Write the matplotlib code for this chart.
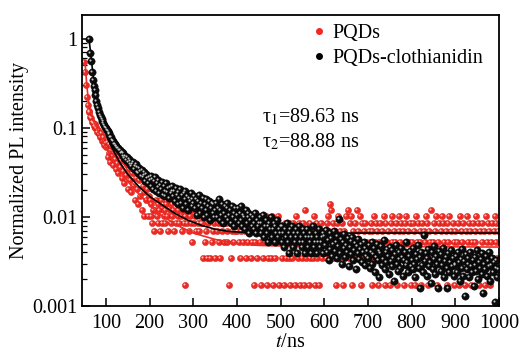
import matplotlib
matplotlib.use("Agg")
import matplotlib.pyplot as plt
import matplotlib.transforms as mtransforms
import numpy as np
from matplotlib.lines import Line2D
from matplotlib.ticker import FixedLocator, LogLocator, NullFormatter

plt.rcParams['font.family'] = 'Liberation Serif'
plt.rcParams['mathtext.fontset'] = 'stix'

# ---- data ----
# time bins (ns)
red_t0 = 50
black_t0 = 62
bin_ns = 2

# PQDs: counts per bin (1 count = 0.00173 in normalized units)
red_unit = 0.00173
red_early = [318, 243, 175, 128, 104, 90, 86, 76, 74, 67,
             66, 61, 63, 57, 59, 52, 55, 49, 46, 50,
             44, 41, 45, 37, 39,
             35, 40, 27, 38, 30, 24, 36, 28, 22, 33,
             26, 20, 31, 23, 18, 28, 21, 25, 16, 27,
             19, 14, 24, 17, 22, 12, 20, 15, 23, 11,
             18, 13, 21, 9, 16, 12, 19, 8, 15, 10,
             17, 7, 13, 11, 6, 14, 9, 12, 6, 10]
red_tail = ("9685747968574958675864975867495867586475"
            "16758465739564857465"
            "5273642582637452645372546375436152463745"
            "45362453742635462354135246351425361243526134253614"
            "32431524352142531634251423517243152342613524135243"
            "34256428735241536243514326372536142537243615243532"
            "24351426354213524361523421536243512463524153624351"
            "32541635243152436251437235246135242653241536242531"
            "42351624352146325413524362514235241635241352463524")

# PQDs-clothianidin: counts per bin up to 598 ns (1 count = 0.00066),
# then values in units of 1e-4 from 600 ns on
black_unit = 0.00066
black_early = [1515, 1050, 840, 635, 516, 450, 405, 350, 305, 275,
               250, 225, 212, 200, 190, 180, 172, 163, 156, 150, 144,
               140, 131, 129, 120, 118, 110, 109, 101, 100, 95, 94, 90, 90, 85,
               86, 80, 81, 74, 79, 70, 74, 66, 71, 62, 67, 60, 64, 56, 60,
               62, 52, 57, 60, 49, 55, 47, 53, 50, 44, 51, 42, 48, 45, 38, 46, 41, 36, 43, 39,
               44, 34, 40, 31, 38, 42, 30, 36, 33, 39, 28, 35, 31, 37, 27, 34, 30, 26, 36, 29,
               32, 25, 33, 28, 30,
               34, 26, 30, 23, 32, 27, 21, 29, 25, 31, 22, 27, 19, 28, 24, 30, 21, 26, 18, 25,
               23, 28, 20, 24, 22,
               26, 19, 24, 16, 23, 20, 27, 17, 22, 19, 25, 15, 21, 18, 24, 16, 20, 23, 14, 19,
               22, 17, 21, 15, 18,
               22, 15, 19, 24, 14, 18, 16, 21, 13, 17, 20, 15, 19, 22, 14, 16, 18, 13, 20, 15,
               17, 12, 19, 14, 16,
               19, 13, 17, 14, 20, 12, 16, 15, 11, 18, 13, 15, 17, 10, 14, 16, 12, 15, 11, 13,
               17, 10, 14, 12, 13,
               15, 10, 13, 11, 16, 9, 12, 14, 10, 12, 8, 13, 11, 15, 9, 11, 13, 8, 12, 10,
               14, 9, 11, 10, 12,
               8, 12, 10, 7, 11, 9, 13, 8, 10, 6, 11, 9, 12, 7, 10, 8, 11, 9, 6, 10,
               12, 8, 9, 7, 11, 8, 10, 6, 9, 11, 7, 9, 8, 10, 6, 9, 12, 7, 8, 10,
               6, 9, 8, 11, 7, 8, 9, 6, 10]
black_tail_e4 = [62, 48, 71, 40, 55, 33, 66, 44, 58, 37, 50, 69, 42, 53, 35, 61, 47, 95, 39, 56,
                 30, 52, 45, 64, 36, 49, 41, 58, 28, 46, 54, 38, 60, 33, 43, 51, 26, 47, 39, 57,
                 34, 44, 50, 31, 40, 53, 29, 45, 37, 42,
                 35, 48, 27, 41, 52, 30, 38, 45, 24, 36, 50, 33, 42, 21, 39, 47, 29, 34, 55, 26,
                 40, 31, 44, 37, 23, 46, 32, 28, 43, 35, 19, 38, 49, 30, 25, 41, 34, 27, 45, 36,
                 22, 33, 40, 29, 52, 31, 24, 37, 42, 28,
                 33, 26, 45, 30, 21, 38, 34, 48, 27, 16, 36, 41, 29, 24, 63, 32, 39, 22, 35, 44,
                 28, 31, 18, 40, 26, 34, 47, 23, 37, 30, 16, 42, 33, 25, 38, 29, 45, 21, 32, 36,
                 27, 16, 39, 24, 31, 43, 28, 35, 22, 30,
                 29, 37, 24, 41, 31, 19, 34, 27, 44, 22, 32, 13, 38, 26, 30, 35, 21, 40, 28, 24,
                 33, 17, 29, 36, 25, 43, 20, 31, 27, 34, 23, 39, 14, 30, 26, 37, 22, 32, 28, 41,
                 19, 29, 35, 24, 31, 11, 27, 33, 21, 26]

# fitted decay curves
fit_black_t = [61, 64, 68, 72, 78, 85, 95, 110, 130, 150, 175, 200, 230, 260,
               290, 320, 350, 380, 420, 500, 1000]
fit_black_y = [1.0, 0.75, 0.5, 0.33, 0.22, 0.15, 0.1, 0.065, 0.042, 0.03, 0.022,
               0.017, 0.0135, 0.0108, 0.0091, 0.0080, 0.0073, 0.0069, 0.0067,
               0.0066, 0.0066]
fit_red_t = [52, 56, 60, 66, 75, 85, 100, 120, 150, 180, 220, 260, 300, 350,
             400, 450, 520, 1000]
fit_red_y = [0.55, 0.3, 0.2, 0.15, 0.11, 0.085, 0.06, 0.04, 0.025, 0.017, 0.011,
             0.0082, 0.0066, 0.0056, 0.0050, 0.0048, 0.0047, 0.0046]

tau_text = [r'τ$_1$=89.63 ns', r'τ$_2$=88.88 ns']

# ---- assemble series ----
red_counts = np.array(red_early + [int(c) for c in red_tail], dtype=float)
red_x = red_t0 + bin_ns * np.arange(len(red_counts))
keep = red_counts > 0
red_x, red_y = red_x[keep], red_counts[keep] * red_unit

blk_y = np.concatenate([np.array(black_early) * black_unit,
                        np.array(black_tail_e4) * 1e-4])
blk_x = black_t0 + bin_ns * np.arange(len(blk_y))

fig, ax = plt.subplots(figsize=(5.22, 3.56), dpi=100)
fig.subplots_adjust(left=0.157, right=0.956, bottom=0.140, top=0.958)

# small offset for the specular highlight on each ball
hl = mtransforms.offset_copy(ax.transData, fig=fig, x=-0.7, y=0.7, units='points')

red = '#ee2a24'
ax.scatter(red_x, red_y, s=20, color=red, edgecolors='#c81810', linewidths=0.3, zorder=2)
ax.scatter(red_x, red_y, s=2, color='#ffc8c8', linewidths=0, zorder=2.1, transform=hl)
ax.plot(fit_red_t, fit_red_y, color=red, lw=1.2, zorder=3)
ax.plot(fit_black_t, fit_black_y, color='black', lw=1.2, zorder=3)
ax.scatter(blk_x, blk_y, s=28, color='#0c0c0c', edgecolors='black', linewidths=0.3, zorder=4)
ax.scatter(blk_x, blk_y, s=2.2, color='#c8c8c8', linewidths=0, zorder=4.1, transform=hl)

ax.set_yscale('log')
ax.set_xlim(45, 1000)
ax.set_ylim(0.001, 1.84)
ax.xaxis.set_major_locator(FixedLocator(np.arange(100, 1001, 100)))
ax.yaxis.set_major_locator(FixedLocator([0.001, 0.01, 0.1, 1]))
ax.yaxis.set_major_formatter(plt.FuncFormatter(lambda v, p: '%g' % v))
ax.yaxis.set_minor_locator(LogLocator(base=10, subs=np.arange(2, 10)))
ax.yaxis.set_minor_formatter(NullFormatter())
ax.tick_params(which='both', direction='in', top=False, right=False, labelsize=14.5)
ax.tick_params(which='major', length=6, width=1.1)
ax.tick_params(which='minor', length=3.5, width=0.9)
ax.tick_params(axis='x', pad=6)
for sp in ax.spines.values():
    sp.set_linewidth(1.3)

ax.set_xlabel(r'$t$/ns', fontsize=14.5, labelpad=0)
ax.set_ylabel('Normalized PL intensity', fontsize=14.5, labelpad=2)

handles = [Line2D([], [], ls='', marker='o', ms=4, color=red),
           Line2D([], [], ls='', marker='o', ms=4, color='black')]
ax.legend(handles, ['PQDs', 'PQDs-clothianidin'], loc='upper left',
          bbox_to_anchor=(0.519, 1.017), frameon=False, fontsize=14.5,
          handlelength=0.6, handletextpad=0.4, labelspacing=0.3, borderaxespad=0.3)

ax.text(0.432, 0.650, tau_text[0], transform=ax.transAxes, fontsize=14.5, va='center')
ax.text(0.432, 0.563, tau_text[1], transform=ax.transAxes, fontsize=14.5, va='center')

fig.savefig('out.png', dpi=100)
